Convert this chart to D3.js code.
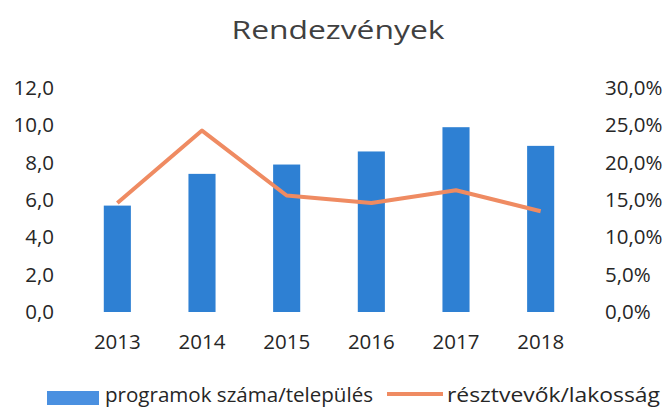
<!DOCTYPE html>
<html>
<head>
<meta charset="utf-8">
<script src="https://cdn.jsdelivr.net/npm/d3@7"></script>
<style>
  html, body { margin: 0; padding: 0; background: #fff; }
  svg { display: block; }
  text { font-family: "Open Sans", sans-serif; }
</style>
</head>
<body>
<div id="chart"></div>
<script>
const years = ["2013", "2014", "2015", "2016", "2017", "2018"];
const programs = [5.7, 7.4, 7.9, 8.6, 9.9, 8.9];
const participants = [0.146, 0.243, 0.156, 0.146, 0.163, 0.135];
const leftTicks = [0, 2, 4, 6, 8, 10, 12];
const rightTicks = [0, 0.05, 0.10, 0.15, 0.20, 0.25, 0.30];
const title = "Rendezvények";
const seriesNames = ["programok száma/település", "résztvevők/lakosság"];

const W = 669, H = 407;
const barColor = "#2E80D3";
const lineColor = "#EF8B62";
const textColor = "#262626";

const svg = d3.select("#chart").append("svg").attr("width", W).attr("height", H);

const x = d3.scaleBand().domain(years).range([75, 583]).paddingInner(0.68).paddingOuter(0.34);
const yL = d3.scaleLinear().domain([0, 12]).range([312, 88]);
const yR = d3.scaleLinear().domain([0, 0.30]).range([312, 88]);

// title
svg.append("text").attr("x", 338).attr("y", 39).attr("text-anchor", "middle")
  .attr("font-size", 26).attr("fill", "#404040")
  .attr("textLength", 213).attr("lengthAdjust", "spacingAndGlyphs")
  .text(title);

// bars
svg.append("g").selectAll("rect").data(years).join("rect")
  .attr("x", d => x(d))
  .attr("width", x.bandwidth())
  .attr("y", (d, i) => yL(programs[i]))
  .attr("height", (d, i) => yL(0) - yL(programs[i]))
  .attr("fill", barColor);

// line
const line = d3.line()
  .x((d, i) => x(years[i]) + x.bandwidth() / 2)
  .y(d => yR(d));
svg.append("path").datum(participants)
  .attr("d", line).attr("fill", "none")
  .attr("stroke", lineColor).attr("stroke-width", 4)
  .attr("stroke-linejoin", "round");

// left axis
const fmtL = d => d3.format(".1f")(d).replace(".", ",");
const axL = svg.append("g").attr("transform", "translate(54,0)")
  .call(d3.axisLeft(yL).tickValues(leftTicks).tickFormat(fmtL).tickSize(0).tickPadding(0));
axL.select(".domain").remove();
axL.selectAll("text").attr("font-size", 20.5).attr("fill", textColor).attr("font-family", "Open Sans");

// right axis
const fmtR = d => d3.format(".1f")(d * 100).replace(".", ",") + "%";
const axR = svg.append("g").attr("transform", "translate(605,0)")
  .call(d3.axisRight(yR).tickValues(rightTicks).tickFormat(fmtR).tickSize(0).tickPadding(0));
axR.select(".domain").remove();
axR.selectAll("text").attr("font-size", 20.5).attr("fill", textColor).attr("font-family", "Open Sans");

// bottom axis
const axB = svg.append("g").attr("transform", "translate(0,322)")
  .call(d3.axisBottom(x).tickSize(0).tickPadding(12));
axB.select(".domain").remove();
axB.selectAll("text").attr("font-size", 20.5).attr("fill", textColor).attr("font-family", "Open Sans");

// legend
const lg = svg.append("g");
lg.append("rect").attr("x", 47).attr("y", 391).attr("width", 52).attr("height", 14).attr("fill", "#4A90E0");
lg.append("text").attr("x", 105).attr("y", 402).attr("font-size", 20).attr("fill", textColor)
  .attr("textLength", 268).attr("lengthAdjust", "spacingAndGlyphs").text(seriesNames[0]);
lg.append("line").attr("x1", 387).attr("x2", 443).attr("y1", 394).attr("y2", 394)
  .attr("stroke", lineColor).attr("stroke-width", 4);
lg.append("text").attr("x", 447).attr("y", 402).attr("font-size", 20).attr("fill", textColor)
  .attr("textLength", 213).attr("lengthAdjust", "spacingAndGlyphs").text(seriesNames[1]);
</script>
</body>
</html>
